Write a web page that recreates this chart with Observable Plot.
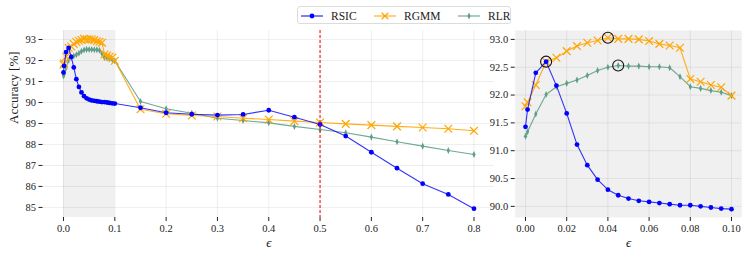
<!DOCTYPE html>
<html>
<head>
<meta charset="utf-8">
<script src="https://cdn.jsdelivr.net/npm/d3@7"></script>
<script src="https://cdn.jsdelivr.net/npm/@observablehq/plot@0.6"></script>
<style>
  html, body { margin: 0; padding: 0; background: #fff; }
  #wrap { position: relative; width: 748px; height: 259px; overflow: hidden; font-family: "Liberation Serif", serif; }
  #wrap svg, #wrap svg text, #wrap svg g { font-family: "Liberation Serif", serif !important; }
  #wrap > .panel { position: absolute; top: 0; }
  #legend { position: absolute; left: 297px; top: 6px; width: 214px; height: 18px; border: 1px solid #dcdcdc; border-radius: 3px; background: #fff; box-sizing: border-box; }
  #legend svg { position: absolute; left: 0; top: 0; }
</style>
</head>
<body>
<div id="wrap"></div>
<script>
// ---- data ----
const epsilon = [0, 0.001, 0.005, 0.01, 0.015, 0.02, 0.025, 0.03, 0.035, 0.04, 0.045, 0.05, 0.055, 0.06, 0.065, 0.07, 0.075, 0.08, 0.085, 0.09, 0.095, 0.1,
                 0.15, 0.2, 0.25, 0.3, 0.35, 0.4, 0.45, 0.5, 0.55, 0.6, 0.65, 0.7, 0.75, 0.8];
const rsic = [91.43, 91.74, 92.40, 92.60, 92.17, 91.67, 91.11, 90.74, 90.48, 90.30, 90.20, 90.14, 90.10, 90.08, 90.06, 90.04, 90.02, 90.02, 90.00, 89.98, 89.96, 89.95,
              89.75, 89.51, 89.44, 89.40, 89.43, 89.63, 89.30, 88.95, 88.40, 87.63, 86.87, 86.13, 85.62, 84.94];
const rgmm = [91.80, 91.87, 92.18, 92.60, 92.67, 92.79, 92.88, 92.94, 92.98, 93.03, 93.01, 93.01, 93.00, 92.97, 92.92, 92.89, 92.85, 92.29, 92.24, 92.18, 92.14, 91.99,
              89.68, 89.46, 89.38, 89.33, 89.25, 89.19, 89.11, 89.05, 88.98, 88.92, 88.86, 88.81, 88.75, 88.65];
const rlr  = [91.26, 91.34, 91.66, 92.01, 92.15, 92.21, 92.27, 92.35, 92.44, 92.50, 92.53, 92.52, 92.52, 92.51, 92.51, 92.49, 92.33, 92.15, 92.12, 92.08, 92.05, 91.99,
              90.05, 89.70, 89.49, 89.25, 89.14, 89.03, 88.86, 88.71, 88.56, 88.35, 88.13, 87.92, 87.71, 87.52];
const seriesNames = ["RSIC", "RGMM", "RLR"];
const leftXTicks = [0, 0.1, 0.2, 0.3, 0.4, 0.5, 0.6, 0.7, 0.8];
const leftYTicks = [85, 86, 87, 88, 89, 90, 91, 92, 93];
const rightXTicks = [0, 0.02, 0.04, 0.06, 0.08, 0.1];
const rightYTicks = [90, 90.5, 91, 91.5, 92, 92.5, 93];
const shadedRange = [0, 0.1];
const threshold = 0.5;

// ---- styles ----
const FONT = "'Liberation Serif', serif";
const colors = {RSIC: "#0000ff", RGMM: "#ffa500", RLR: "#5f9e86"};
const thinDiamond = {
  draw(ctx, size) {
    const h = Math.sqrt(size) * 0.62, w = h * 0.45;
    ctx.moveTo(0, -h); ctx.lineTo(w, 0); ctx.lineTo(0, h); ctx.lineTo(-w, 0); ctx.closePath();
  }
};

const values = {RSIC: rsic, RGMM: rgmm, RLR: rlr};
const rows = seriesNames.flatMap(s => epsilon.map((e, i) => ({series: s, eps: e, acc: values[s][i]})));
const fine = rows.filter(d => d.eps <= 0.1 + 1e-9);
const maxima = seriesNames.map(s => {
  const r = fine.filter(d => d.series === s);
  return r[d3.maxIndex(r, d => d.acc)];
});

function seriesMarks(data) {
  const by = s => data.filter(d => d.series === s);
  return [
    Plot.line(by("RLR"), {x: "eps", y: "acc", stroke: colors.RLR, strokeWidth: 1.1, strokeOpacity: 0.9}),
    Plot.dot(by("RLR"), {x: "eps", y: "acc", symbol: thinDiamond, r: 3.2, fill: colors.RLR, stroke: "none"}),
    Plot.line(by("RGMM"), {x: "eps", y: "acc", stroke: colors.RGMM, strokeWidth: 1.1, strokeOpacity: 0.9}),
    Plot.dot(by("RGMM"), {x: "eps", y: "acc", symbol: "times", r: 3.6, stroke: colors.RGMM, strokeWidth: 1.2}),
    Plot.line(by("RSIC"), {x: "eps", y: "acc", stroke: colors.RSIC, strokeWidth: 1.1, strokeOpacity: 0.8}),
    Plot.dot(by("RSIC"), {x: "eps", y: "acc", r: 2.4, fill: colors.RSIC, stroke: "none"})
  ];
}

const common = {
  height: 259, marginTop: 30, marginBottom: 42,
  style: {fontFamily: FONT, fontSize: "10.5px", background: "transparent", color: "#222", overflow: "visible"}
};

const gridStyle = {stroke: "#000", strokeOpacity: 0.085, strokeWidth: 0.8};
const axisOpts = {tickSize: 4, tickPadding: 3, label: null, fontSize: 10.5, fontFamily: FONT};

const left = Plot.plot({
  ...common,
  width: 500, marginLeft: 42.5, marginRight: 6,
  x: {domain: [-0.04, 0.84]},
  y: {domain: [84.52, 93.43]},
  marks: [
    Plot.rect([shadedRange], {x1: d => d[0], x2: d => d[1], fill: "#f0f0f0"}),
    Plot.gridX(leftXTicks, gridStyle),
    Plot.gridY(leftYTicks, gridStyle),
    ...seriesMarks(rows),
    Plot.ruleX([threshold], {stroke: "#ff0000", strokeDasharray: "3,2", strokeWidth: 1}),
    Plot.axisX(leftXTicks, {...axisOpts, tickFormat: d3.format(".1f")}),
    Plot.axisY(leftYTicks, {...axisOpts}),
    Plot.text(["ϵ"], {frameAnchor: "bottom", dy: 29, fontSize: 13, fontStyle: "italic", fontFamily: FONT}),
    Plot.text(["Accuracy [%]"], {frameAnchor: "left", dx: -29, rotate: -90, fontSize: 13, fontFamily: FONT})
  ]
});

const right = Plot.plot({
  ...common,
  width: 268, marginLeft: 34.7, marginRight: 6.7,
  x: {domain: [-0.005, 0.105]},
  y: {domain: [89.8, 93.16]},
  marks: [
    Plot.frame({fill: "#f0f0f0", stroke: "none"}),
    Plot.gridX(rightXTicks, gridStyle),
    Plot.gridY(rightYTicks, gridStyle),
    ...seriesMarks(fine),
    Plot.dot(maxima, {x: "eps", y: "acc", r: 5.5, stroke: "#111", strokeWidth: 1.1, fill: "none"}),
    Plot.axisX(rightXTicks, {...axisOpts, tickFormat: d3.format(".2f")}),
    Plot.axisY(rightYTicks, {...axisOpts, tickFormat: d3.format(".1f")}),
    Plot.text(["ϵ"], {frameAnchor: "bottom", dy: 29, fontSize: 13, fontStyle: "italic", fontFamily: FONT})
  ]
});

const wrap = document.getElementById("wrap");
const p1 = document.createElement("div"); p1.className = "panel"; p1.style.left = "0px"; p1.appendChild(left);
const p2 = document.createElement("div"); p2.className = "panel"; p2.style.left = "480px"; p2.appendChild(right);
wrap.appendChild(p1); wrap.appendChild(p2);

// ---- legend ----
const lg = document.createElement("div"); lg.id = "legend";
const lsvg = d3.create("svg").attr("width", 214).attr("height", 18);
const slots = [{name: "RSIC", x: 3}, {name: "RGMM", x: 76}, {name: "RLR", x: 160}];
const sym = {RSIC: d3.symbol(d3.symbolCircle, 18), RGMM: d3.symbol(d3.symbolTimes, 30), RLR: d3.symbol(thinDiamond, 32)};
for (const s of slots) {
  const g = lsvg.append("g").attr("transform", `translate(${s.x},9)`);
  g.append("line").attr("x1", 0).attr("x2", 22).attr("stroke", colors[s.name]).attr("stroke-width", 1.2).attr("stroke-opacity", 0.85);
  const p = g.append("path").attr("transform", "translate(11,0)").attr("d", sym[s.name]());
  if (s.name === "RGMM") p.attr("fill", "none").attr("stroke", colors[s.name]).attr("stroke-width", 1.2);
  else p.attr("fill", colors[s.name]);
  g.append("text").attr("x", 30).attr("y", 4).attr("font-size", 11.5).attr("fill", "#222").text(s.name);
}
lg.appendChild(lsvg.node());
wrap.appendChild(lg);
</script>
</body>
</html>
